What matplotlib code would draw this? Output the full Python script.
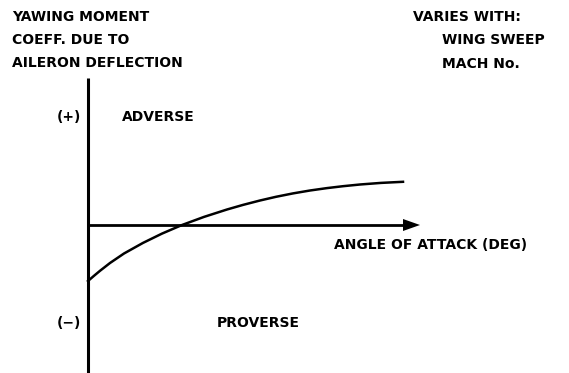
import matplotlib
matplotlib.use("Agg")
import matplotlib.pyplot as plt

# curve (arbitrary units: angle of attack vs. yawing moment coeff.)
alpha = [0.0, 0.6, 1.2, 2.2, 3.6, 5.5, 7.4, 9.4, 11.6, 13.9, 15.5, 17.2, 18.8, 20.5, 22.2,
         23.9, 25.5, 27.2, 29.3, 31.5]
cn = [-5.6, -5.08, -4.58, -3.8, -2.85, -1.79, -0.86, 0.0, 0.81, 1.55, 2.01, 2.45, 2.82, 3.16,
      3.45, 3.69, 3.88, 4.05, 4.21, 4.32]

plt.rcParams["font.family"] = ["DejaVu Sans"]

fig = plt.figure(figsize=(5.69, 3.73), dpi=100)
ax = fig.add_axes([0, 0, 1, 1])
ax.set_xlim(-8.8, 48.1)
ax.set_ylim(-14.8, 22.5)
ax.axis("off")

# axes of the sketch
ax.plot([0, 0], [-14.8, 14.7], color="black", lw=2.2, solid_capstyle="butt")
ax.plot([0, 31.8], [0, 0], color="black", lw=2.0)
ax.fill([31.5, 33.2, 31.5], [0.6, 0, -0.6], color="black", lw=0)

ax.plot(alpha, cn, color="black", lw=1.8, solid_joinstyle="round")

kw = dict(fontsize=10, fontweight="bold")
ax.text(-7.6, 21.5, "YAWING MOMENT\nCOEFF. DUE TO\nAILERON DEFLECTION",
        va="top", ha="left", linespacing=1.82, **kw)
ax.text(32.5, 21.5, "VARIES WITH:", va="top", ha="left", **kw)
ax.text(35.4, 19.15, "WING SWEEP\nMACH No.", va="top", ha="left", linespacing=1.82, **kw)
ax.text(-0.7, 10.8, "(+)", ha="right", va="center", **kw)
ax.text(3.4, 10.8, "ADVERSE", ha="left", va="center", **kw)
ax.text(-0.7, -9.8, "(\u2212)", ha="right", va="center", **kw)
ax.text(12.9, -9.8, "PROVERSE", ha="left", va="center", **kw)
ax.text(24.6, -2.05, "ANGLE OF ATTACK (DEG)", ha="left", va="center", **kw)

fig.savefig("out.png", dpi=100)
